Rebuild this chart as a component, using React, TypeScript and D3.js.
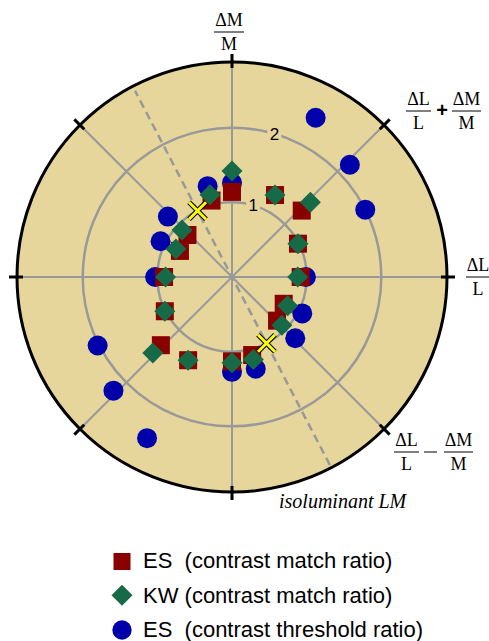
import React from "react";
import * as d3 from "d3";

// ---- data ----
const angles = [0, 26.8, 43.6, 62.3, 90, 105, 136.7, 153.4, 180, 207, 223.8, 242.2, 270, 284.5, 315.9, 332.6];
const esMatch = [0.92, 0.99, 1.29, 1.24, 1.14, 1.06, 0.82, 0.78, 0.91, 1.01, 1.32, 1.26, 1.13, 1.08, 0.84, 0.78];
const kwMatch = [0.88, 0.99, 1.45, 1.24, 1.42, 1.14, 0.92, 0.84, 0.89, 1.01, 1.47, 1.26, 1.15, 1.14, 0.93, 0.84];
const esThreshold = [0.99, 2.0, 2.18, 2.41, 1.26, 1.26, 1.18, 1.07, 1.03, 2.02, 2.2, 2.44, 1.27, 1.27, 1.18, 1.06];
const ringValues = [1, 2];
const ringLabels = ["1", "2"];
const spokeAngles = [0, 45, 90, 135, 180, 225, 270, 315];
const isoAngle = 117.5;
const isoMarkerRadius = [1, 1];
const isoMarkerAngle = [117.5, 297.5];
const legendLabels = ["ES  (contrast match ratio)", "KW (contrast match ratio)", "ES  (contrast threshold ratio)"];

const W = 489, H = 641;
const cx = 232, cy = 277;
const R = 215;
const rMax = 2.88;

const RED = "#880000";
const GREEN = "#176a47";
const BLUE = "#0000aa";
const GRAY = "#999999";
const TAN = "#e6d69c";

export default function App() {
  const r = d3.scaleLinear().domain([0, rMax]).range([0, R]);
  const rad = (deg: number) => (deg * Math.PI) / 180;
  const px = (v: number, a: number) => cx + r(v) * Math.cos(rad(a));
  const py = (v: number, a: number) => cy - r(v) * Math.sin(rad(a));
  const ppx = (p: number, a: number) => cx + p * Math.cos(rad(a));
  const ppy = (p: number, a: number) => cy - p * Math.sin(rad(a));

  const serif = "'Liberation Serif', 'Times New Roman', serif";
  const sans = "'Liberation Sans', Arial, sans-serif";

  const frac = (x: number, y: number, num: string, den: string, w: number, key: string) => (
    <g key={key}>
      <text x={x} y={y - 6} textAnchor="middle" fontFamily={serif} fontSize={18}>{num}</text>
      <line x1={x - w / 2} x2={x + w / 2} y1={y} y2={y} stroke="#000" strokeWidth={1} />
      <text x={x} y={y + 18} textAnchor="middle" fontFamily={serif} fontSize={18}>{den}</text>
    </g>
  );

  const labelAngle = 73.5;

  return (
    <svg width={W} height={H} style={{ position: "absolute", left: 0, top: 0, background: "#fff" }}>
      <circle cx={cx} cy={cy} r={R} fill={TAN} />
      {ringValues.map((v) => (
        <circle key={"ring" + v} cx={cx} cy={cy} r={r(v)} fill="none" stroke={GRAY} strokeWidth={2.5} />
      ))}
      {spokeAngles.map((a) => (
        <line key={"sp" + a} x1={cx} y1={cy} x2={ppx(R, a)} y2={ppy(R, a)} stroke={GRAY} strokeWidth={2} />
      ))}
      <line
        x1={ppx(-212, isoAngle)} y1={ppy(-212, isoAngle)}
        x2={ppx(210, isoAngle)} y2={ppy(210, isoAngle)}
        stroke={GRAY} strokeWidth={2.5} strokeDasharray="8,5"
      />
      <circle cx={cx} cy={cy} r={R} fill="none" stroke="#000" strokeWidth={3} />
      {spokeAngles.map((a) => (
        <line key={"tk" + a} x1={ppx(R - 6, a)} y1={ppy(R - 6, a)} x2={ppx(R + 8, a)} y2={ppy(R + 8, a)} stroke="#000" strokeWidth={3} />
      ))}
      {ringValues.map((v, i) => (
        <g key={"rl" + v}>
          <rect x={px(v, labelAngle) - 7} y={py(v, labelAngle) - 9} width={14} height={18} fill={TAN} />
          <text x={px(v, labelAngle)} y={py(v, labelAngle) + 6} textAnchor="middle" fontFamily={sans} fontSize={17}>{ringLabels[i]}</text>
        </g>
      ))}

      {esThreshold.map((v, i) => (
        <circle key={"b" + i} cx={px(v, angles[i])} cy={py(v, angles[i])} r={10} fill={BLUE} />
      ))}
      {esMatch.map((v, i) => (
        <rect key={"s" + i} x={px(v, angles[i]) - 9} y={py(v, angles[i]) - 9} width={18} height={18} fill={RED} />
      ))}
      {kwMatch.map((v, i) => {
        const x = px(v, angles[i]), y = py(v, angles[i]);
        const d = 10.5;
        return <path key={"d" + i} d={`M${x},${y - d}L${x + d},${y}L${x},${y + d}L${x - d},${y}Z`} fill={GREEN} />;
      })}
      {isoMarkerRadius.map((v, i) => {
        const x = px(v, isoMarkerAngle[i]), y = py(v, isoMarkerAngle[i]);
        const s = 8.5;
        const p = `M${x - s},${y - s}L${x + s},${y + s}M${x - s},${y + s}L${x + s},${y - s}`;
        return (
          <g key={"x" + i}>
            <path d={p} stroke="#000" strokeWidth={5} />
            <path d={p} stroke="#ffff00" strokeWidth={3} />
          </g>
        );
      })}

      {frac(229, 32, "ΔM", "M", 30, "top")}
      {frac(478, 277, "ΔL", "L", 24, "right")}
      {frac(418.5, 111, "ΔL", "L", 25, "tr1")}
      <text x={442} y={117} textAnchor="middle" fontFamily={sans} fontWeight="bold" fontSize={20}>+</text>
      {frac(466.5, 111, "ΔM", "M", 29, "tr2")}
      {frac(406.5, 452, "ΔL", "L", 25, "br1")}
      <line x1={424} x2={437} y1={452} y2={452} stroke="#000" strokeWidth={1} />
      {frac(458.5, 452, "ΔM", "M", 29, "br2")}

      <text x={279} y={508} fontFamily={serif} fontStyle="italic" fontSize={20}>isoluminant LM</text>

      <rect x={113.5} y={553} width={17} height={17} fill={RED} />
      <path d={`M122,${595.3 - 10.5}L${122 + 10.5},595.3L122,${595.3 + 10.5}L${122 - 10.5},595.3Z`} fill={GREEN} />
      <circle cx={122} cy={630} r={9.7} fill={BLUE} />
      {legendLabels.map((t, i) => (
        <text key={"lg" + i} x={143} y={568.3 + i * 34.2} fontFamily={sans} fontSize={22} style={{ whiteSpace: "pre" }}>{t}</text>
      ))}
    </svg>
  );
}
